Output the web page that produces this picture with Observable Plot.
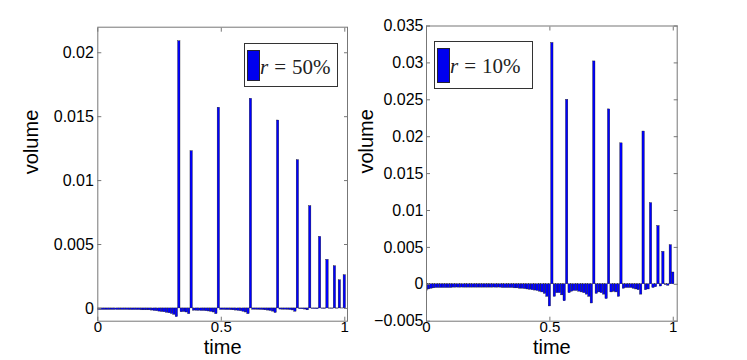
<!DOCTYPE html>
<html><head><meta charset="utf-8">
<script src="https://cdn.jsdelivr.net/npm/d3@7"></script>
<script src="https://cdn.jsdelivr.net/npm/@observablehq/plot@0.6"></script>
<style>
html,body{margin:0;padding:0;background:#fff;}
#fig{position:relative;width:747px;height:360px;overflow:hidden;font-family:"Liberation Sans",Arial,sans-serif;background:#fff;}
#fig svg{position:absolute;top:0;}
.legend{position:absolute;border:1px solid #333;background:#fff;box-sizing:border-box;}
.sw{position:absolute;background:#0000ee;border:1px solid #223;box-sizing:border-box;}
.lt{position:absolute;font-family:"Liberation Serif","Times New Roman",serif;font-size:21px;line-height:1;white-space:nowrap;color:#222;}
.lt i{font-style:italic;}
.lt .eq{margin:0 6px;}
</style></head><body><div id="fig"></div><script>
// time grid (bar positions, step 0.01)
const timeSteps = d3.range(101).map(i => i / 100);

// r = 50% panel volumes (index = time*100)
const volume50 = [
  -0.00012,-0.00012,-0.00012,-0.00012,-0.00012,-0.00012,-0.00012,-0.00012,-0.00012,-0.00012,
  -0.00012,-0.00012,-0.00012,-0.00013,-0.00013,-0.00013,-0.00013,-0.00013,-0.00015,-0.00015,
  -0.00015,-0.00015,-0.00017,-0.0002,-0.00022,-0.00025,-0.00028,-0.0003,-0.00034,-0.00038,
  -0.00043,-0.0005,-0.00068,
  0.0209,
  -0.0003,-0.00028,-0.00032,-0.00045,
  0.0123,
  -0.00018,-0.00018,-0.00019,-0.0002,-0.0002,-0.00022,-0.00024,-0.00027,-0.00032,-0.00045,
  0.0157,
  -0.00012,-0.00012,-0.00013,-0.00013,-0.00014,-0.00015,-0.00017,-0.00019,-0.00022,-0.00026,-0.00032,-0.00045,
  0.0164,
  -0.0001,-0.0001,-0.00011,-0.00012,-0.00013,-0.00015,-0.00017,-0.0002,-0.00025,-0.00036,
  0.0147,
  -0.00009,-0.0001,-0.0001,-0.00011,-0.00013,-0.00016,-0.00026,
  0.0116,
  -0.00006,-0.00007,-0.00009,-0.00015,
  0.0080,
  -0.00004,-0.00005,-0.00006,
  0.0056,
  -0.00003,-0.00004,
  0.0038,
  -0.00002,-0.00003,
  0.0033,
  -0.00002,
  0.0022,
  -0.00001,
  0.0026
];

// r = 10% panel volumes (index = time*100)
const volume10 = [
  -0.0009,-0.0007,-0.0006,-0.00055,
  -0.0005,-0.0005,-0.0005,-0.0005,-0.0005,-0.0005,-0.0005,
  -0.00045,-0.00045,-0.00045,-0.00045,-0.00045,-0.00045,-0.00045,-0.00045,-0.00045,-0.00045,
  -0.00045,-0.00045,-0.00045,-0.00045,-0.00045,-0.00045,-0.00045,-0.00045,-0.00045,-0.00045,
  -0.0005,-0.0005,-0.0005,-0.0005,-0.0005,
  -0.00055,-0.00055,-0.0006,-0.0006,-0.00065,-0.0007,-0.00075,-0.0008,-0.00085,-0.0009,
  -0.001,-0.0011,-0.0013,-0.0017,-0.003,
  0.0327,
  -0.0017,-0.0012,-0.0012,-0.0015,-0.0023,
  0.0250,
  -0.0012,-0.001,-0.0009,-0.0009,-0.001,-0.0011,-0.0012,-0.0014,-0.0017,-0.0026,
  0.0302,
  -0.0013,-0.0011,-0.0012,-0.0014,-0.002,
  0.0237,
  -0.0011,-0.001,-0.0011,-0.0017,
  0.0191,
  -0.0006,-0.0005,-0.0005,-0.0005,-0.0006,-0.0007,-0.0008,-0.0014,
  0.0207,
  -0.0008,-0.0007,
  0.0110,
  -0.0005,-0.0004,
  0.0079,
  -0.0003,
  0.0044,
  -0.0001,-0.0002,
  0.0053,
  0.0016
];

const xTicks = [0, 0.5, 1];
const xTickLabels = ["0", "0.5", "1"];
const yTicks50 = [0, 0.005, 0.01, 0.015, 0.02];
const yTickLabels50 = ["0", "0.005", "0.01", "0.015", "0.02"];
const yTicks10 = [-0.005, 0, 0.005, 0.01, 0.015, 0.02, 0.025, 0.03, 0.035];
const yTickLabels10 = ["\u22120.005", "0", "0.005", "0.01", "0.015", "0.02", "0.025", "0.03", "0.035"];
const legendLabels = ["r = 50%", "r = 10%"];
const xLabel = "time";
const yLabel = "volume";

const BLUE = "#0000ff";
const AXIS = "#777";

function panel(o) {
  const data = timeSteps.map((t, i) => ({t, v: o.values[i]}));
  const fmtY = d => o.yTickLabels[o.yTicks.indexOf(d)];
  const fmtX = d => xTickLabels[xTicks.indexOf(d)];
  return Plot.plot({
    width: o.width, height: 360,
    marginLeft: o.mLeft, marginRight: o.mRight, marginTop: o.mTop, marginBottom: 39.3,
    style: {background: "transparent", overflow: "visible", fontFamily: "'Liberation Sans', Arial, sans-serif", color: "#000"},
    x: {domain: o.xDomain},
    y: {domain: o.yDomain},
    marks: [
      Plot.rectY(data, {x1: d => d.t - 0.0048, x2: d => d.t + 0.0048, y: "v", fill: BLUE, stroke: "#111", strokeWidth: 0.35, clip: true}),
      Plot.frame({stroke: AXIS}),
      Plot.axisX(xTicks, {anchor: "bottom", tickSize: -4, tickPadding: 4.5, stroke: AXIS, fill: "#000", fontSize: 15, tickFormat: fmtX, label: null}),
      Plot.axisX(xTicks, {anchor: "top", tickSize: -4, stroke: AXIS, fill: "none", label: null}),
      Plot.axisY(o.yTicks, {anchor: "left", tickSize: -4, tickPadding: o.yPad, stroke: AXIS, fill: "#000", fontSize: 16, tickFormat: fmtY, label: null}),
      Plot.axisY(o.yTicks, {anchor: "right", tickSize: -4, stroke: AXIS, fill: "none", label: null}),
      Plot.text([yLabel], {frameAnchor: "left", dx: o.yLabelDx, rotate: -90, fontSize: 20, fill: "#000"}),
      Plot.text([xLabel], {frameAnchor: "bottom", dy: 33, lineAnchor: "bottom", fontSize: 20, fill: "#000"})
    ]
  });
}

const fig = document.getElementById("fig");

const left = panel({values: volume50, xDomain: [0, 1.011], yDomain: [-0.001, 0.022],
  yTicks: yTicks50, yTickLabels: yTickLabels50, width: 362, mLeft: 97.3, mRight: 15, mTop: 26.7, yPad: 8, yLabelDx: -66});
left.style.left = "0px";
fig.appendChild(left);

const right = panel({values: volume10, xDomain: [0, 1.016], yDomain: [-0.005, 0.035],
  yTicks: yTicks10, yTickLabels: yTickLabels10, width: 402, mLeft: 81, mRight: 70.3, mTop: 25.5, yPad: 7, yLabelDx: -60});
right.style.left = "345px";
fig.appendChild(right);

function legend(label, box, sw, textLeft, textTop) {
  const [sym, val] = label.split(" = ");
  const L = document.createElement("div");
  L.className = "legend";
  Object.assign(L.style, {left: box[0] + "px", top: box[1] + "px", width: box[2] + "px", height: box[3] + "px"});
  const S = document.createElement("div");
  S.className = "sw";
  Object.assign(S.style, {left: sw[0] + "px", top: sw[1] + "px", width: sw[2] + "px", height: sw[3] + "px"});
  const T = document.createElement("div");
  T.className = "lt";
  Object.assign(T.style, {left: textLeft + "px", top: textTop + "px"});
  const i = document.createElement("i"); i.textContent = sym;
  const eq = document.createElement("span"); eq.className = "eq"; eq.textContent = "=";
  const v = document.createElement("span"); v.textContent = val;
  T.append(i, eq, v);
  L.append(S, T);
  fig.appendChild(L);
}
legend(legendLabels[0], [244, 42.5, 93.5, 44.5], [2, 6, 12.5, 31.5], 15, 13);
legend(legendLabels[1], [434, 41, 98.5, 47.5], [2, 6, 13, 35], 15, 14);
</script></body></html>
